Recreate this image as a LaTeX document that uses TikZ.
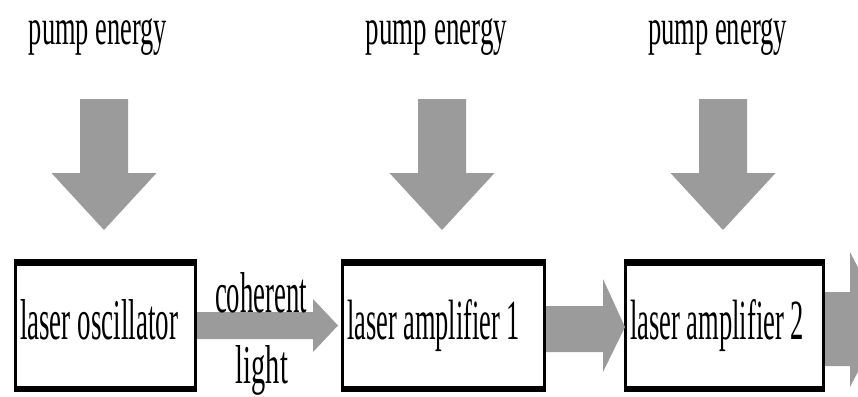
\documentclass[tikz,border=0pt]{standalone}
\usepackage{fontspec}
\setmainfont{Liberation Serif}
\usetikzlibrary{calc}
\definecolor{arrgray}{RGB}{155,155,155}
\newcommand{\stxt}[3]{\resizebox{#1pt}{#2pt}{#3}}
\tikzset{
  arr/.style={fill=arrgray},
  lbl/.style={inner sep=0pt, outer sep=0pt, text=black},
  boxo/.style={fill=black, inner sep=0pt, outer sep=0pt, minimum width=183pt, minimum height=133pt},
}
\newcommand{\downarr}[1]{%
  \fill[arr] ($(#1)+(-24,0)$) -- ($(#1)+(24,0)$) -- ($(#1)+(24,74)$) -- ($(#1)+(52.5,74)$)
    -- ($(#1)+(0,131)$) -- ($(#1)+(-52.5,74)$) -- ($(#1)+(-24,74)$) -- cycle;}
\begin{document}
\begin{tikzpicture}[x=1pt,y=-1pt]
\fill[white] (0,0) rectangle (858,396);
\useasboundingbox (0,0) rectangle (858,396);
\clip (0,0) rectangle (858,396);

% pump energy labels
\node[lbl, anchor=base] (p1) at (98,45) {\stxt{138}{26}{pump energy}};
\node[lbl, anchor=base] (p2) at (436.5,45) {\stxt{141}{26}{pump energy}};
\node[lbl, anchor=base] (p3) at (717.5,45) {\stxt{139}{26}{pump energy}};

% down arrows
\coordinate (a1) at (104,99);
\coordinate (a2) at (442,99);
\coordinate (a3) at (723,99);
\downarr{a1}
\downarr{a2}
\downarr{a3}

% boxes (thick horizontal borders, thin vertical)
\node[boxo, minimum width=183pt] (b1) at (105.5,325.5) {};
\node[boxo, minimum width=205pt] (b2) at (443.5,325.5) {};
\node[boxo, minimum width=201pt] (b3) at (724.5,325.5) {};
\foreach \b in {b1,b2,b3}{
  \fill[white] ($(\b.north west)+(3,7)$) rectangle ($(\b.south east)+(-3,-6)$);
}

% box texts
\node[lbl, anchor=base west] (t1) at (20,339) {\stxt{158}{40}{laser oscillator}};
\node[lbl, anchor=base west] (t2) at (347,339) {\stxt{173}{40}{laser amplifier 1}};
\node[lbl, anchor=base west] (t3) at (630,339) {\stxt{174}{40}{laser amplifier 2}};

% horizontal arrows
\fill[arr] ($(b1.east)+(0,-13.5)$) -- ($(b1.east)+(116,-13.5)$) -- ($(b1.east)+(116,-26.5)$)
  -- ($(b1.east)+(141,0)$) -- ($(b1.east)+(116,26.5)$) -- ($(b1.east)+(116,13.5)$)
  -- ($(b1.east)+(0,13.5)$) -- cycle;
\fill[arr] ($(b2.east)+(0,-19.5)$) -- ($(b2.east)+(57,-19.5)$) -- ($(b2.east)+(57,-46.5)$)
  -- ($(b2.east)+(79,1.5)$) -- ($(b2.east)+(57,46.5)$) -- ($(b2.east)+(57,26.5)$)
  -- ($(b2.east)+(0,26.5)$) -- cycle;
\fill[arr] ($(b3.east)+(0,-33.5)$) -- ($(b3.east)+(25,-33.5)$) -- ($(b3.east)+(25,-73.5)$)
  -- ($(b3.east)+(60,-6)$) -- ($(b3.east)+(25,61.5)$) -- ($(b3.east)+(25,40.5)$)
  -- ($(b3.east)+(0,40.5)$) -- cycle;

% coherent light label
\node[lbl, anchor=base] (c1) at (261,312) {\stxt{92}{40}{coherent}};
\node[lbl, anchor=base] (c2) at (262,383) {\stxt{52}{38}{light}};
\end{tikzpicture}
\end{document}
